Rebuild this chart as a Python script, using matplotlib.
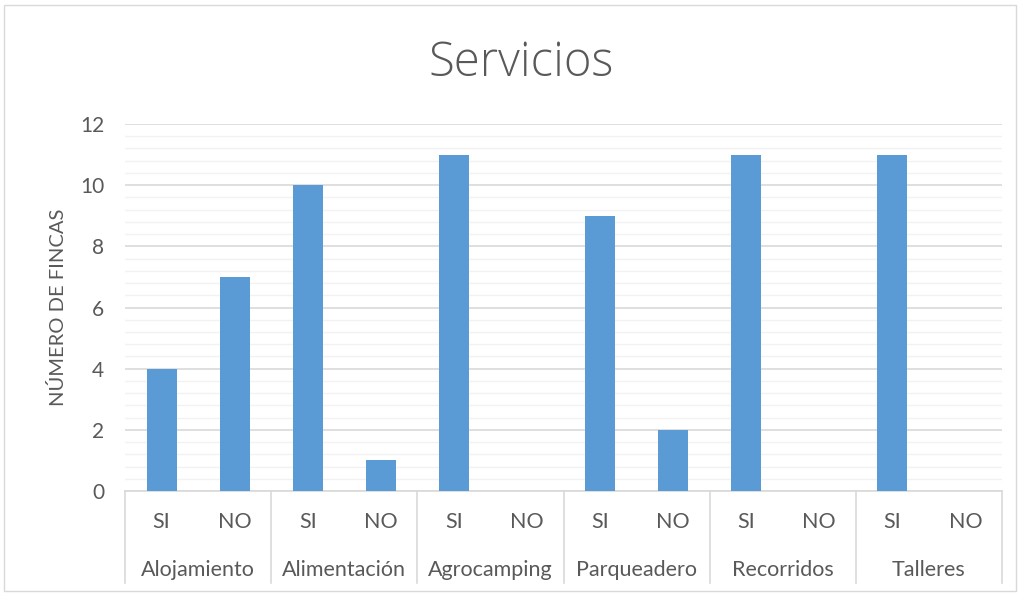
import numpy as np
import matplotlib
matplotlib.use('Agg')
import matplotlib.pyplot as plt
from matplotlib.ticker import MultipleLocator

plt.rcParams['font.family'] = ['Lato', 'DejaVu Sans']

groups = ['Alojamiento', 'Alimentación', 'Agrocamping', 'Parqueadero',
          'Recorridos', 'Talleres']
answers = ['SI', 'NO']
values = [4, 7, 10, 1, 11, 0, 9, 2, 11, 0, 11, 0]

grey = '#595959'
fig = plt.figure(figsize=(10.2, 5.95), dpi=100)
ax = fig.add_axes([125 / 1020, 1 - 491 / 595, 877 / 1020, 367 / 595])

x = np.arange(len(values))
ax.bar(x, values, width=0.41, color='#5B9BD5', zorder=3)

ax.set_xlim(-0.5, len(values) - 0.5)
ax.set_ylim(0, 12)
ax.yaxis.set_major_locator(MultipleLocator(2))
ax.yaxis.set_minor_locator(MultipleLocator(0.4))
ax.grid(which='major', axis='y', color='#D9D9D9', lw=1.2, zorder=0)
ax.grid(which='minor', axis='y', color='#F2F2F2', lw=1.0, zorder=0)
ax.tick_params(axis='y', which='both', length=0, labelsize=15,
               labelcolor=grey, pad=15)
ax.set_xticks([])
for s in ['top', 'right', 'left']:
    ax.spines[s].set_visible(False)
ax.spines['bottom'].set_color('#D9D9D9')
ax.spines['bottom'].set_linewidth(1.2)

# two-level category axis
tr = ax.get_xaxis_transform()
for b in np.arange(-0.5, len(values), 2):
    ax.plot([b, b], [0, -0.25], transform=tr, color='#D9D9D9', lw=1.2,
            clip_on=False)
for i in x:
    ax.text(i, -0.085, answers[i % 2], transform=tr, ha='center',
            va='center', fontsize=15.5, color=grey)
for j, g in enumerate(groups):
    ax.text(2 * j + 0.5, -0.215, g, transform=tr, ha='center',
            va='center', fontsize=15.5, color=grey)

ax.set_ylabel('NÚMERO DE FINCAS', fontsize=14.5, color=grey, labelpad=9)
fig.text(0.511, 1 - 64 / 595, 'Servicios', ha='center', va='center',
         fontsize=34, color=grey, family=['Open Sans', 'DejaVu Sans'],
         fontweight='light')

# chart border
fig.patches.append(plt.Rectangle((4 / 1020, 4 / 595), 1012 / 1020,
                                 586 / 595, transform=fig.transFigure,
                                 fill=False, edgecolor='#D9D9D9', lw=1))

fig.savefig('out.png', dpi=100)
